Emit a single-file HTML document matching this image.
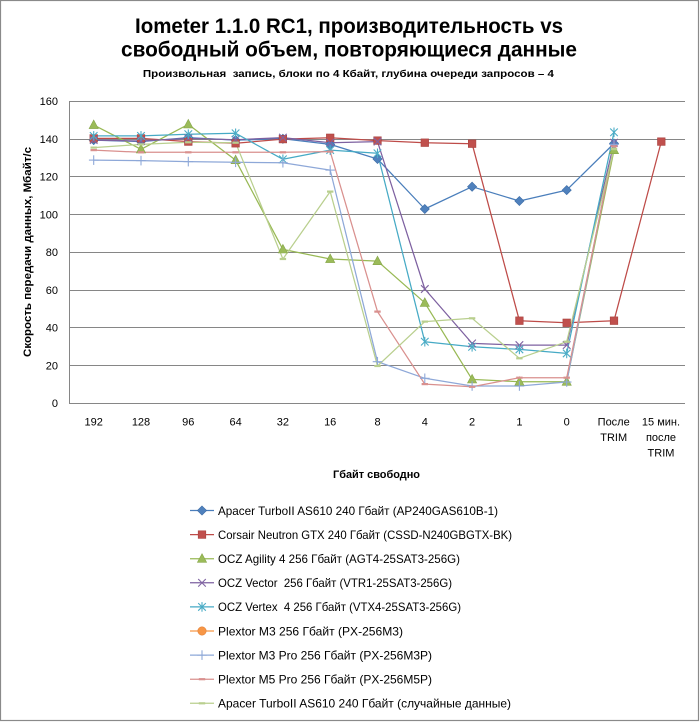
<!DOCTYPE html>
<html>
<head>
<meta charset="utf-8">
<style>
html,body{margin:0;padding:0;background:#fff;}
svg{display:block;}
text{font-family:"Liberation Sans","DejaVu Sans",sans-serif;fill:#000;white-space:pre;}
.yt{font-family:"DejaVu Sans","Liberation Sans",sans-serif;font-size:11px;}
.xt{font-size:11px;}
.lg{font-size:12px;}
</style>
</head>
<body>
<svg width="700" height="722" viewBox="0 0 700 722" xmlns="http://www.w3.org/2000/svg">
<defs>
  <g id="mDia"><polygon points="0,-4.6 4.6,0 0,4.6 -4.6,0" fill="#4F81BD" stroke="#3C6BA5" stroke-width="0.6"/></g>
  <g id="mSq"><rect x="-3.8" y="-3.8" width="7.6" height="7.6" fill="#C0504D" stroke="#A8423F" stroke-width="0.6"/></g>
  <g id="mTri"><polygon points="0,-5 4.6,3.6 -4.6,3.6" fill="#9BBB59" stroke="#86A64A" stroke-width="0.6"/></g>
  <g id="mX" stroke="#8064A2" stroke-width="1.1"><line x1="-3.8" y1="-3.8" x2="3.8" y2="3.8"/><line x1="-3.8" y1="3.8" x2="3.8" y2="-3.8"/></g>
  <g id="mAst" stroke="#4BACC6" stroke-width="1.1"><line x1="-3.8" y1="-3.8" x2="3.8" y2="3.8"/><line x1="-3.8" y1="3.8" x2="3.8" y2="-3.8"/><line x1="0" y1="-4.8" x2="0" y2="4.8"/></g>
  <g id="mPlus" stroke="#8EA8D8" stroke-width="1.1"><line x1="-4.8" y1="0" x2="4.8" y2="0"/><line x1="0" y1="-4.8" x2="0" y2="4.8"/></g>
  <g id="mDashR"><rect x="-3.2" y="-1.1" width="6.4" height="2.2" fill="#D9908E"/></g>
  <g id="mDashG"><rect x="-3.2" y="-1.1" width="6.4" height="2.2" fill="#B9CF8E"/></g>
  <g id="mCirc"><circle r="4.2" fill="#F79646" stroke="#E3823A" stroke-width="0.6"/></g>
</defs>

<rect x="0.5" y="0.5" width="698" height="720" fill="#fff" stroke="#8a8a8a" stroke-width="1.2"/>

<!-- Titles -->
<text x="349" y="33" text-anchor="middle" font-size="21" font-weight="bold" textLength="428" lengthAdjust="spacingAndGlyphs">Iometer 1.1.0 RC1, производительность vs</text>
<text x="349" y="56.5" text-anchor="middle" font-size="21" font-weight="bold" textLength="456" lengthAdjust="spacingAndGlyphs">свободный объем, повторяющиеся данные</text>
<text x="348.4" y="77" text-anchor="middle" font-size="10.5" font-weight="bold" textLength="411" lengthAdjust="spacingAndGlyphs">Произвольная  запись, блоки по 4 Кбайт, глубина очереди запросов – 4</text>

<!-- Gridlines -->
<g stroke="#868686" stroke-width="1">
  <line x1="69.5" y1="101.5" x2="685" y2="101.5"/>
  <line x1="69.5" y1="139.5" x2="685" y2="139.5"/>
  <line x1="69.5" y1="176.5" x2="685" y2="176.5"/>
  <line x1="69.5" y1="214.5" x2="685" y2="214.5"/>
  <line x1="69.5" y1="252.5" x2="685" y2="252.5"/>
  <line x1="69.5" y1="290.5" x2="685" y2="290.5"/>
  <line x1="69.5" y1="327.5" x2="685" y2="327.5"/>
  <line x1="69.5" y1="365.5" x2="685" y2="365.5"/>
  <line x1="69.5" y1="403.5" x2="685" y2="403.5"/>
  <line x1="69.5" y1="101" x2="69.5" y2="404"/>
</g>

<!-- Y tick labels -->
<g class="yt" text-anchor="end">
  <text x="58" y="105">160</text>
  <text x="58" y="143">140</text>
  <text x="58" y="180.5">120</text>
  <text x="58" y="218.5">100</text>
  <text x="58" y="256">80</text>
  <text x="58" y="294">60</text>
  <text x="58" y="331.5">40</text>
  <text x="58" y="369.5">20</text>
  <text x="58" y="407">0</text>
</g>

<!-- Y axis title -->
<text transform="translate(31,252) rotate(-90)" text-anchor="middle" font-size="11" font-weight="bold" textLength="210" lengthAdjust="spacingAndGlyphs">Скорость передачи данных, Мбайт/с</text>

<!-- X tick labels -->
<g class="xt" text-anchor="middle">
  <text x="93.7" y="425.5">192</text>
  <text x="141" y="425.5">128</text>
  <text x="188.3" y="425.5">96</text>
  <text x="235.6" y="425.5">64</text>
  <text x="282.9" y="425.5">32</text>
  <text x="330.2" y="425.5">16</text>
  <text x="377.5" y="425.5">8</text>
  <text x="424.8" y="425.5">4</text>
  <text x="472.1" y="425.5">2</text>
  <text x="519.4" y="425.5">1</text>
  <text x="566.7" y="425.5">0</text>
  <text x="613.7" y="425.5">После</text>
  <text x="613.7" y="441">TRIM</text>
  <text x="661" y="425.5">15 мин.</text>
  <text x="661" y="441">после</text>
  <text x="661" y="456.5">TRIM</text>
</g>

<!-- X axis title -->
<text x="376.5" y="478" text-anchor="middle" font-size="11" font-weight="bold" textLength="87" lengthAdjust="spacingAndGlyphs">Гбайт свободно</text>

<!-- Series lines -->
<g fill="none" stroke-width="1.25" stroke-linejoin="round">
  <polyline stroke="#4A7EBB" points="93.7,140.1 141.0,141.6 188.3,137.6 235.6,140.1 282.9,138.8 330.2,144.4 377.5,159.0 424.8,209.0 472.1,186.7 519.4,201.0 566.7,190.1 614.0,143.5"/>
  <polyline stroke="#BE4B48" points="93.7,138.4 141.0,138.4 188.3,141.6 235.6,143.3 282.9,139.1 330.2,137.8 377.5,140.6 424.8,142.7 472.1,143.7 519.4,320.7 566.7,322.8 614.0,320.7 661.3,141.6"/>
  <polyline stroke="#98B954" points="93.7,125.0 141.0,149.3 188.3,124.4 235.6,160.1 282.9,249.4 330.2,259.0 377.5,261.1 424.8,302.8 472.1,379.4 519.4,381.7 566.7,381.7 614.0,150.1"/>
  <polyline stroke="#7D60A0" points="93.7,140.1 141.0,141.0 188.3,138.4 235.6,139.7 282.9,137.6 330.2,142.7 377.5,141.6 424.8,289.0 472.1,343.4 519.4,345.1 566.7,345.1 614.0,142.7"/>
  <polyline stroke="#46AAC5" points="93.7,135.9 141.0,135.9 188.3,134.2 235.6,133.3 282.9,159.3 330.2,150.1 377.5,153.3 424.8,341.7 472.1,346.8 519.4,349.4 566.7,353.4 614.0,132.3"/>
  <polyline stroke="#8EA8D8" points="93.7,160.1 141.0,160.6 188.3,161.6 235.6,162.3 282.9,162.7 330.2,170.1 377.5,361.7 424.8,378.3 472.1,386.0 519.4,386.0 566.7,382.0 614.0,144.4"/>
  <polyline stroke="#D9908E" points="93.7,150.1 141.0,152.3 188.3,152.3 235.6,152.3 282.9,152.3 330.2,151.6 377.5,311.6 424.8,384.1 472.1,386.8 519.4,377.7 566.7,377.7 614.0,146.3"/>
  <polyline stroke="#B9CF8E" points="93.7,147.6 141.0,144.4 188.3,142.3 235.6,142.7 282.9,259.0 330.2,191.6 377.5,366.0 424.8,321.6 472.1,318.3 519.4,358.3 566.7,341.7 614.0,149.1"/>
</g>

<!-- Markers -->
<g>
  <use href="#mDia" x="93.7" y="140.1"/><use href="#mDia" x="141.0" y="141.6"/><use href="#mDia" x="188.3" y="137.6"/><use href="#mDia" x="235.6" y="140.1"/><use href="#mDia" x="282.9" y="138.8"/><use href="#mDia" x="330.2" y="144.4"/><use href="#mDia" x="377.5" y="159.0"/><use href="#mDia" x="424.8" y="209.0"/><use href="#mDia" x="472.1" y="186.7"/><use href="#mDia" x="519.4" y="201.0"/><use href="#mDia" x="566.7" y="190.1"/><use href="#mDia" x="614.0" y="143.5"/>

  <use href="#mSq" x="93.7" y="138.4"/><use href="#mSq" x="141.0" y="138.4"/><use href="#mSq" x="188.3" y="141.6"/><use href="#mSq" x="235.6" y="143.3"/><use href="#mSq" x="282.9" y="139.1"/><use href="#mSq" x="330.2" y="137.8"/><use href="#mSq" x="377.5" y="140.6"/><use href="#mSq" x="424.8" y="142.7"/><use href="#mSq" x="472.1" y="143.7"/><use href="#mSq" x="519.4" y="320.7"/><use href="#mSq" x="566.7" y="322.8"/><use href="#mSq" x="614.0" y="320.7"/><use href="#mSq" x="661.3" y="141.6"/>

  <use href="#mTri" x="93.7" y="125.0"/><use href="#mTri" x="141.0" y="149.3"/><use href="#mTri" x="188.3" y="124.4"/><use href="#mTri" x="235.6" y="160.1"/><use href="#mTri" x="282.9" y="249.4"/><use href="#mTri" x="330.2" y="259.0"/><use href="#mTri" x="377.5" y="261.1"/><use href="#mTri" x="424.8" y="302.8"/><use href="#mTri" x="472.1" y="379.4"/><use href="#mTri" x="519.4" y="381.7"/><use href="#mTri" x="566.7" y="381.7"/><use href="#mTri" x="614.0" y="150.1"/>

  <use href="#mX" x="93.7" y="140.1"/><use href="#mX" x="141.0" y="141.0"/><use href="#mX" x="188.3" y="138.4"/><use href="#mX" x="235.6" y="139.7"/><use href="#mX" x="282.9" y="137.6"/><use href="#mX" x="330.2" y="142.7"/><use href="#mX" x="377.5" y="141.6"/><use href="#mX" x="424.8" y="289.0"/><use href="#mX" x="472.1" y="343.4"/><use href="#mX" x="519.4" y="345.1"/><use href="#mX" x="566.7" y="345.1"/><use href="#mX" x="614.0" y="142.7"/>

  <use href="#mAst" x="93.7" y="135.9"/><use href="#mAst" x="141.0" y="135.9"/><use href="#mAst" x="188.3" y="134.2"/><use href="#mAst" x="235.6" y="133.3"/><use href="#mAst" x="282.9" y="159.3"/><use href="#mAst" x="330.2" y="150.1"/><use href="#mAst" x="377.5" y="153.3"/><use href="#mAst" x="424.8" y="341.7"/><use href="#mAst" x="472.1" y="346.8"/><use href="#mAst" x="519.4" y="349.4"/><use href="#mAst" x="566.7" y="353.4"/><use href="#mAst" x="614.0" y="132.3"/>

  <use href="#mPlus" x="93.7" y="160.1"/><use href="#mPlus" x="141.0" y="160.6"/><use href="#mPlus" x="188.3" y="161.6"/><use href="#mPlus" x="235.6" y="162.3"/><use href="#mPlus" x="282.9" y="162.7"/><use href="#mPlus" x="330.2" y="170.1"/><use href="#mPlus" x="377.5" y="361.7"/><use href="#mPlus" x="424.8" y="378.3"/><use href="#mPlus" x="472.1" y="386.0"/><use href="#mPlus" x="519.4" y="386.0"/><use href="#mPlus" x="566.7" y="382.0"/><use href="#mPlus" x="614.0" y="144.4"/>

  <use href="#mDashR" x="93.7" y="150.1"/><use href="#mDashR" x="141.0" y="152.3"/><use href="#mDashR" x="188.3" y="152.3"/><use href="#mDashR" x="235.6" y="152.3"/><use href="#mDashR" x="282.9" y="152.3"/><use href="#mDashR" x="330.2" y="151.6"/><use href="#mDashR" x="377.5" y="311.6"/><use href="#mDashR" x="424.8" y="384.1"/><use href="#mDashR" x="472.1" y="386.8"/><use href="#mDashR" x="519.4" y="377.7"/><use href="#mDashR" x="566.7" y="377.7"/><use href="#mDashR" x="614.0" y="146.3"/>

  <use href="#mDashG" x="93.7" y="147.6"/><use href="#mDashG" x="141.0" y="144.4"/><use href="#mDashG" x="188.3" y="142.3"/><use href="#mDashG" x="235.6" y="142.7"/><use href="#mDashG" x="282.9" y="259.0"/><use href="#mDashG" x="330.2" y="191.6"/><use href="#mDashG" x="377.5" y="366.0"/><use href="#mDashG" x="424.8" y="321.6"/><use href="#mDashG" x="472.1" y="318.3"/><use href="#mDashG" x="519.4" y="358.3"/><use href="#mDashG" x="566.7" y="341.7"/><use href="#mDashG" x="614.0" y="149.1"/>
</g>

<!-- Legend -->
<g stroke-width="1.25">
  <line x1="190" y1="510.5" x2="214" y2="510.5" stroke="#4A7EBB"/>
  <line x1="190" y1="534.6" x2="214" y2="534.6" stroke="#BE4B48"/>
  <line x1="190" y1="558.7" x2="214" y2="558.7" stroke="#98B954"/>
  <line x1="190" y1="582.8" x2="214" y2="582.8" stroke="#7D60A0"/>
  <line x1="190" y1="606.9" x2="214" y2="606.9" stroke="#46AAC5"/>
  <line x1="190" y1="631.0" x2="214" y2="631.0" stroke="#F79646"/>
  <line x1="190" y1="655.1" x2="214" y2="655.1" stroke="#8EA8D8"/>
  <line x1="190" y1="679.2" x2="214" y2="679.2" stroke="#D9908E"/>
  <line x1="190" y1="703.3" x2="214" y2="703.3" stroke="#B9CF8E"/>
</g>
<use href="#mDia" x="202" y="510.5"/>
<use href="#mSq" x="202" y="534.6"/>
<use href="#mTri" x="202" y="558.7"/>
<use href="#mX" x="202" y="582.8"/>
<use href="#mAst" x="202" y="606.9"/>
<use href="#mCirc" x="202" y="631.0"/>
<use href="#mPlus" x="202" y="655.1"/>
<use href="#mDashR" x="202" y="679.2"/>
<use href="#mDashG" x="202" y="703.3"/>

<g class="lg">
  <text x="218" y="514.8" textLength="280" lengthAdjust="spacingAndGlyphs">Apacer TurboII AS610 240 Гбайт (AP240GAS610B-1)</text>
  <text x="218" y="538.9" textLength="294" lengthAdjust="spacingAndGlyphs">Corsair Neutron GTX 240 Гбайт (CSSD-N240GBGTX-BK)</text>
  <text x="218" y="563.0" textLength="242" lengthAdjust="spacingAndGlyphs">OCZ Agility 4 256 Гбайт (AGT4-25SAT3-256G)</text>
  <text x="218" y="587.1" textLength="234" lengthAdjust="spacingAndGlyphs">OCZ Vector  256 Гбайт (VTR1-25SAT3-256G)</text>
  <text x="218" y="611.2" textLength="243" lengthAdjust="spacingAndGlyphs">OCZ Vertex  4 256 Гбайт (VTX4-25SAT3-256G)</text>
  <text x="218" y="635.3" textLength="185" lengthAdjust="spacingAndGlyphs">Plextor M3 256 Гбайт (PX-256M3)</text>
  <text x="218" y="659.4" textLength="214" lengthAdjust="spacingAndGlyphs">Plextor M3 Pro 256 Гбайт (PX-256M3P)</text>
  <text x="218" y="683.5" textLength="214" lengthAdjust="spacingAndGlyphs">Plextor M5 Pro 256 Гбайт (PX-256M5P)</text>
  <text x="218" y="707.6" textLength="293" lengthAdjust="spacingAndGlyphs">Apacer TurboII AS610 240 Гбайт (случайные данные)</text>
</g>
</svg>
</body>
</html>
